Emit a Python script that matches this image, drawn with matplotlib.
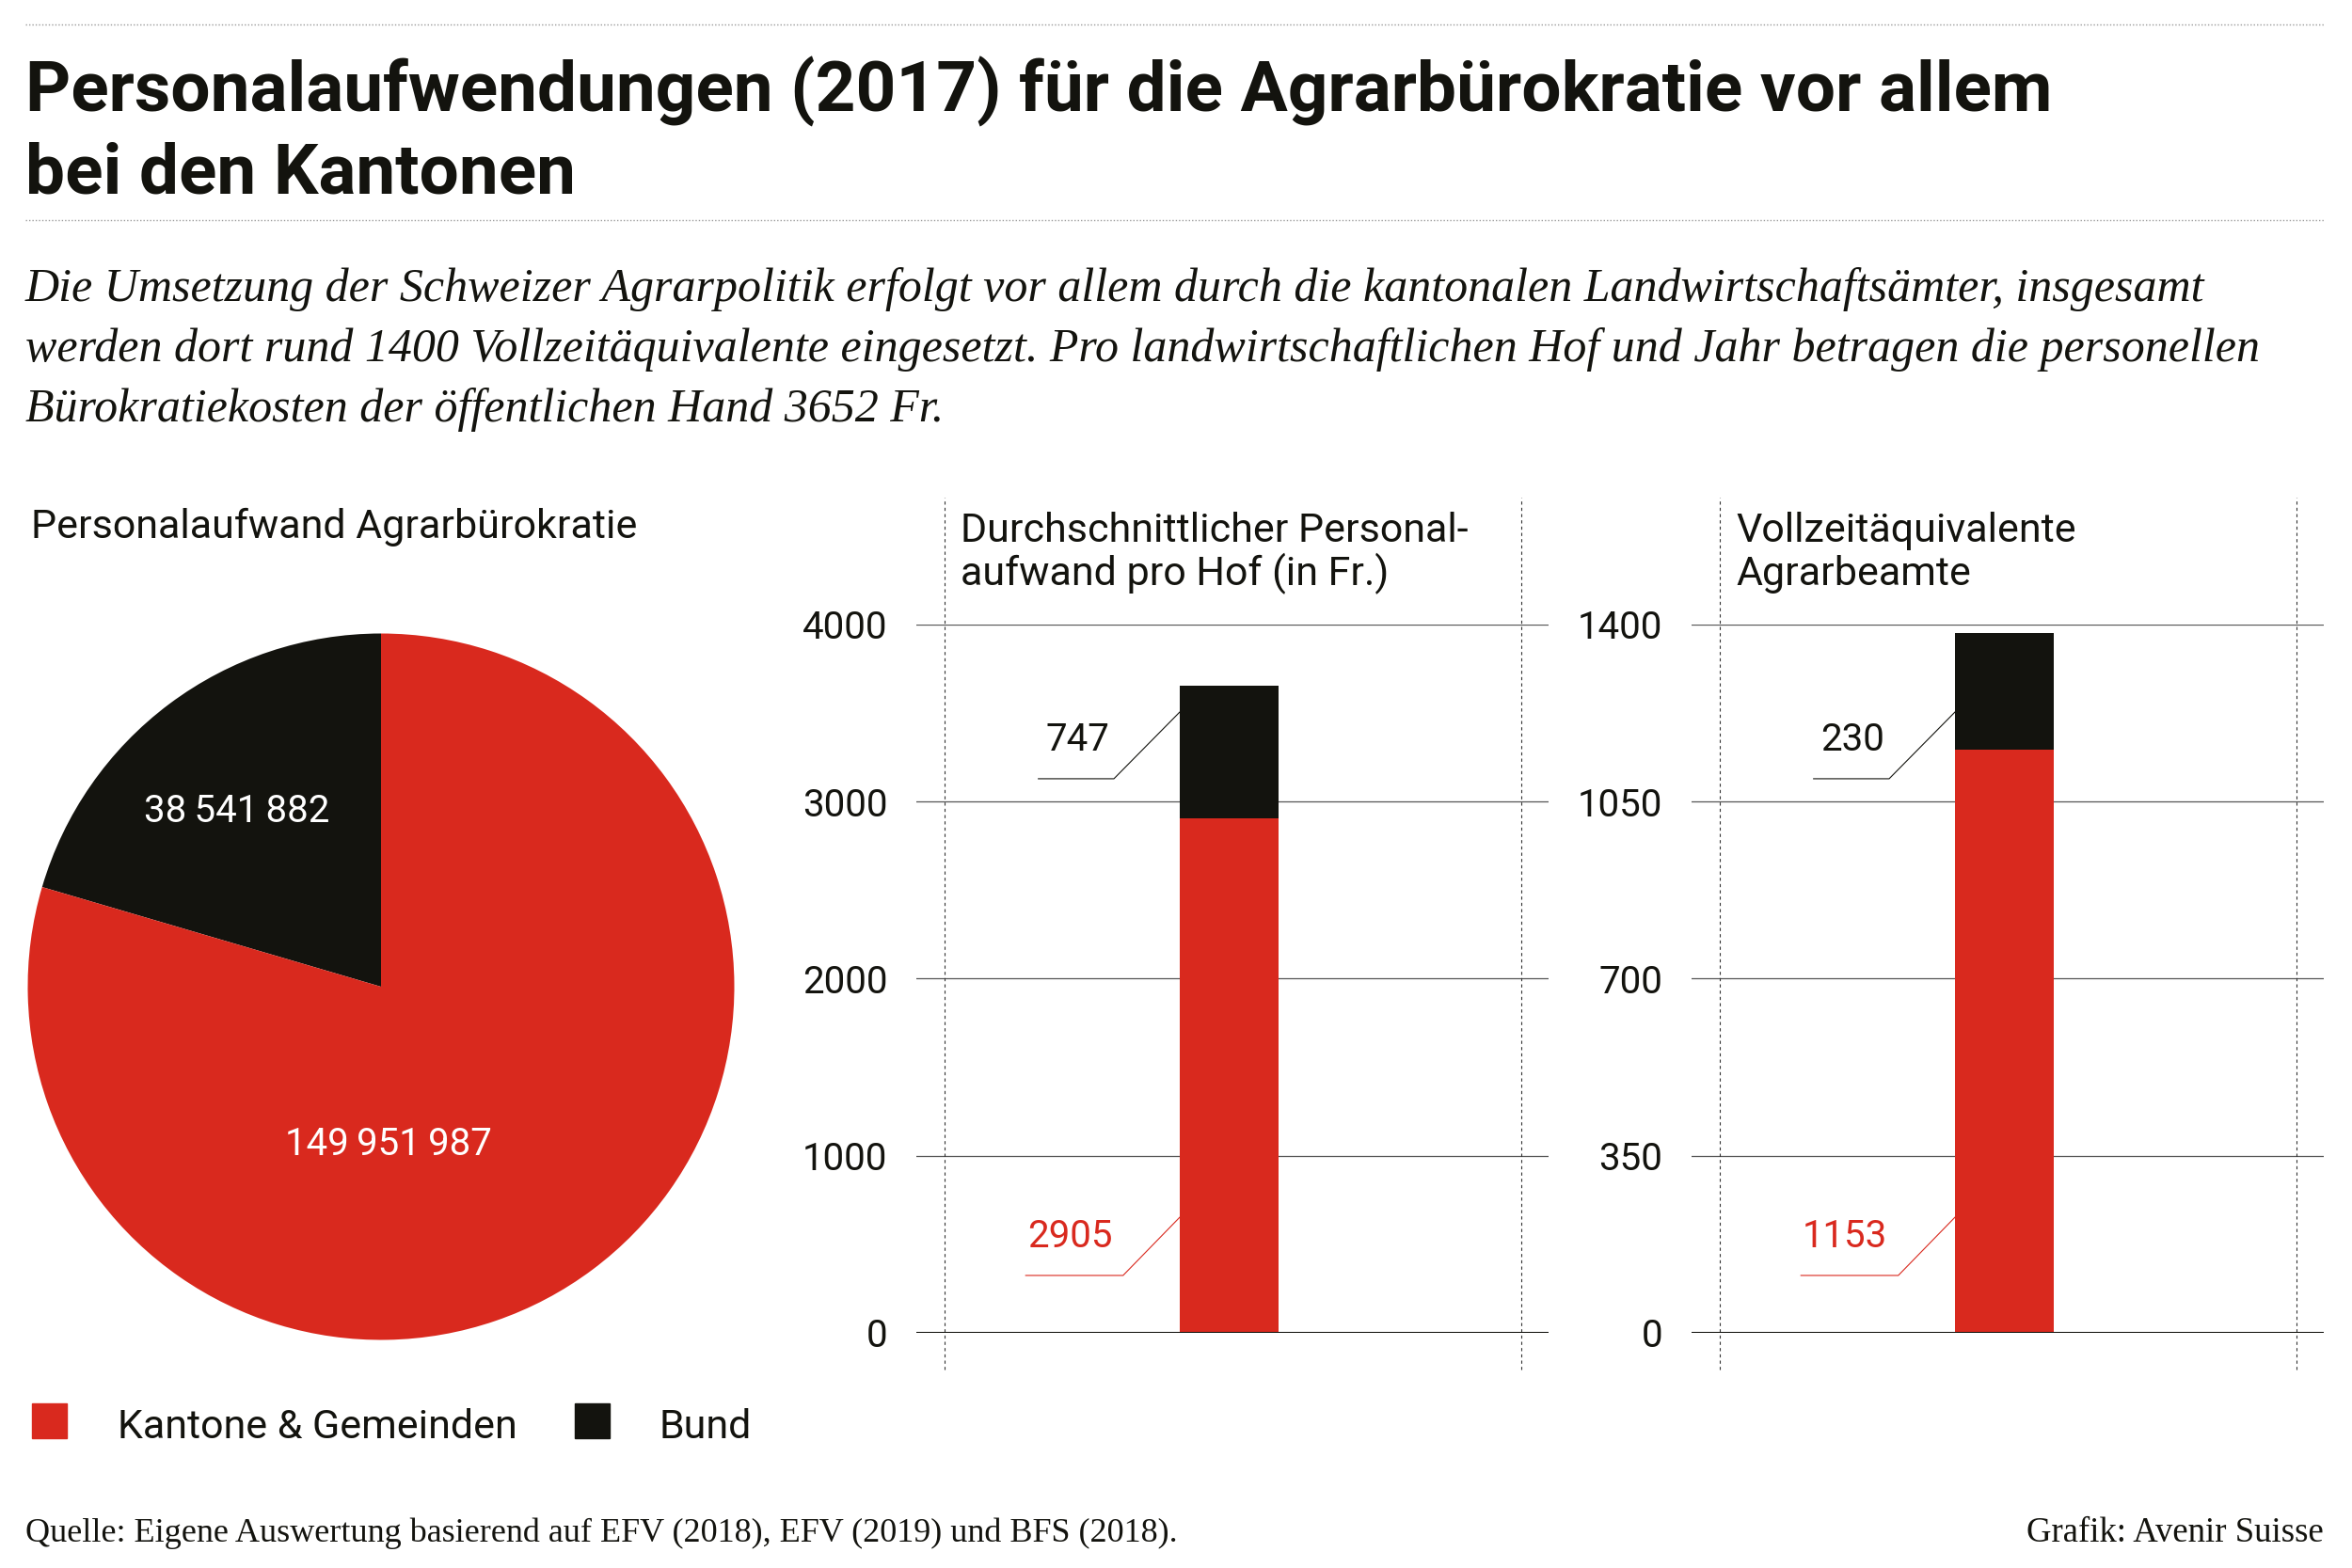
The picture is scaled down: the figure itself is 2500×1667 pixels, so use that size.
import matplotlib
matplotlib.use("Agg")
import matplotlib.pyplot as plt
import matplotlib.font_manager as fm
from matplotlib.lines import Line2D
from matplotlib.patches import Rectangle


def pick_font(*names):
    for name in names:
        try:
            fm.findfont(fm.FontProperties(family=name), fallback_to_default=False)
            return name
        except ValueError:
            pass
    return "DejaVu Sans"


SANS = pick_font("Liberation Sans Narrow", "Roboto")
SERIF = pick_font("Liberation Serif", "DejaVu Serif")

RED = "#d9291e"
BLACK = "#13130e"
GRID = "#555555"

# data
pie_labels = ["Bund", "Kantone & Gemeinden"]
pie_values = [38541882, 149951987]

hof_kantone = 2905
hof_bund = 747
hof_ticks = [0, 1000, 2000, 3000, 4000]

vza_kantone = 1153
vza_bund = 230
vza_ticks = [0, 350, 700, 1050, 1400]

title_lines = ["Personalaufwendungen (2017) für die Agrarbürokratie vor allem",
               "bei den Kantonen"]
lead_lines = ["Die Umsetzung der Schweizer Agrarpolitik erfolgt vor allem durch die kantonalen Landwirtschaftsämter, insgesamt",
              "werden dort rund 1400 Vollzeitäquivalente eingesetzt. Pro landwirtschaftlichen Hof und Jahr betragen die personellen",
              "Bürokratiekosten der öffentlichen Hand 3652 Fr."]

W, H = 2500, 1667
fig = plt.figure(figsize=(W / 100, H / 100), dpi=100)

FS_LABEL = 31     # panel titles, legend
FS_NUM = 29       # tick labels, value labels
RIGHT = 2470


def fx(x):
    return x / W


def fy(y):
    return 1 - y / H


def fmt(v):
    return f"{v:,}".replace(",", "\u2009")


# header
for y in (26, 234):
    fig.add_artist(Line2D([fx(27), fx(RIGHT)], [fy(y), fy(y)], color="#9a9a9a",
                          lw=1.0, ls=(0, (1, 1.5))))
for i, line in enumerate(title_lines):
    fig.text(fx(27), fy(118 + i * 88), line, fontsize=53.8, fontweight="bold",
             family=SANS, color=BLACK, va="baseline")
for i, line in enumerate(lead_lines):
    fig.text(fx(27), fy(320 + i * 64), line, fontsize=36, style="italic",
             family=SERIF, color=BLACK, va="baseline")

# pie
fig.text(fx(33), fy(572), "Personalaufwand Agrarbürokratie", fontsize=FS_LABEL,
         family=SANS, color=BLACK, va="baseline")
axp = fig.add_axes([fx(29.5), fy(1424.5), 751 / W, 751 / H])
axp.pie(pie_values, colors=[BLACK, RED], startangle=90, counterclock=True,
        radius=1, wedgeprops=dict(linewidth=0))
axp.set_xlim(-1, 1)
axp.set_ylim(-1, 1)
axp.text(-0.407, 0.498, fmt(pie_values[0]), color="white", fontsize=FS_NUM,
         family=[SANS, "DejaVu Sans"], ha="center", va="center")
axp.text(0.02, -0.445, fmt(pie_values[1]), color="white", fontsize=FS_NUM,
         family=[SANS, "DejaVu Sans"], ha="center", va="center")

# legend
for x0, col, lab, tx in ((34, RED, pie_labels[1], 125), (611, BLACK, pie_labels[0], 700)):
    fig.add_artist(Rectangle((fx(x0), fy(1529)), 37 / W, 37 / H, color=col,
                             transform=fig.transFigure))
    fig.text(fx(tx), fy(1529), lab, fontsize=FS_LABEL, family=SANS, color=BLACK,
             va="baseline")

# footer
fig.text(fx(27), fy(1639), "Quelle: Eigene Auswertung basierend auf EFV (2018), EFV (2019) und BFS (2018).",
         fontsize=26, family=SERIF, color=BLACK, va="baseline")
fig.text(fx(RIGHT), fy(1639), "Grafik: Avenir Suisse", fontsize=26.5, family=SERIF,
         color=BLACK, va="baseline", ha="right")


def bar_panel(left, title, kantone, bund, ticks):
    ax = fig.add_axes([fx(left), fy(1417), 672 / W, 753.3 / H])
    xc, bw = 0.495, 0.157
    ax.bar(xc, kantone, width=bw, color=RED, zorder=2)
    ax.bar(xc, bund, bottom=kantone, width=bw, color=BLACK, zorder=2)
    ax.set_xlim(0, 1)
    ax.set_ylim(0, ticks[-1])
    ax.set_yticks(ticks)
    ax.set_yticklabels([str(t) for t in ticks], fontsize=FS_NUM, family=SANS, color=BLACK)
    ax.set_xticks([])
    ax.tick_params(axis="y", length=0, pad=22)
    ax.yaxis.grid(True, color=GRID, lw=0.9)
    ax.set_axisbelow(True)
    for s in ax.spines.values():
        s.set_visible(False)
    ax.axhline(0, color=BLACK, lw=2.2, zorder=3)
    for xv in (0.045, 0.957):
        ax.axvline(xv, ymin=-0.052, ymax=1.179, clip_on=False, color="#333333",
                   lw=0.8, ls=(0, (3, 3)))
    for i, line in enumerate(title):
        ax.text(47 / 672, 1.117 - i * 0.062, line, transform=ax.transAxes,
                fontsize=FS_LABEL, family=SANS, color=BLACK, va="baseline")
    edge = xc - bw / 2
    # leader lines and value labels
    ax.plot([0.193, 0.3125, edge], [0.782, 0.782, 0.876], transform=ax.transAxes,
            color=BLACK, lw=0.8)
    ax.text(0.255, 0.822, str(bund), transform=ax.transAxes, fontsize=FS_NUM,
            family=SANS, color=BLACK, ha="center", va="baseline")
    ax.plot([0.173, 0.327, edge], [0.081, 0.081, 0.163], transform=ax.transAxes,
            color=RED, lw=0.8)
    ax.text(0.243, 0.121, str(kantone), transform=ax.transAxes, fontsize=FS_NUM,
            family=SANS, color=RED, ha="center", va="baseline")
    return ax


bar_panel(974, ["Durchschnittlicher Personal-", "aufwand pro Hof (in Fr.)"],
          hof_kantone, hof_bund, hof_ticks)
bar_panel(1798, ["Vollzeitäquivalente", "Agrarbeamte"],
          vza_kantone, vza_bund, vza_ticks)

fig.savefig("out.png", dpi=100, facecolor="white")
